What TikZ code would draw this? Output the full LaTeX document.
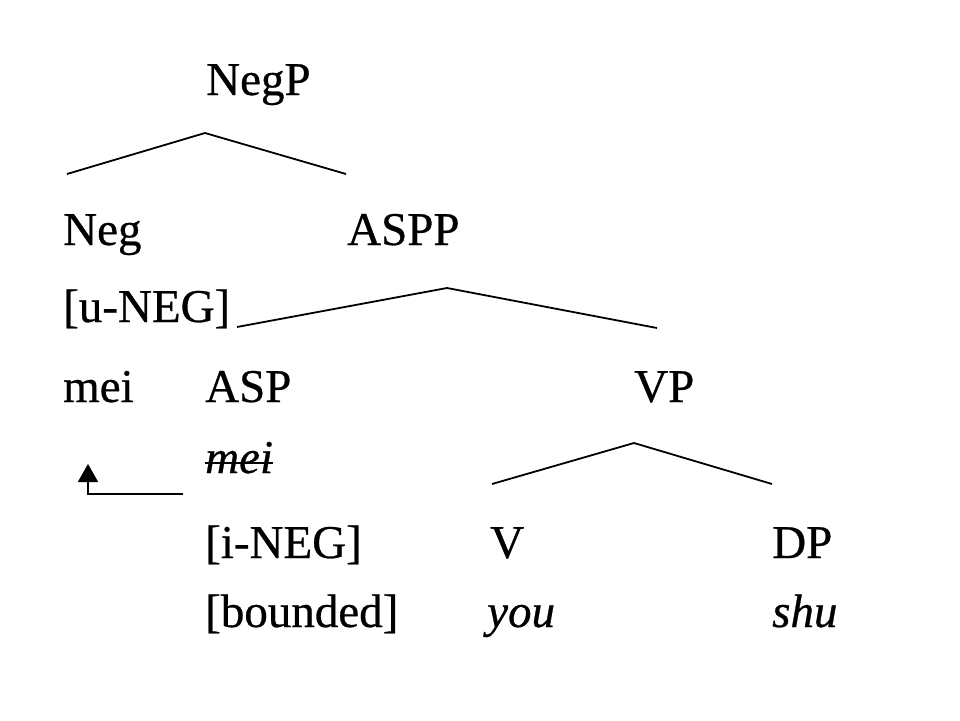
\documentclass[tikz,border=0pt]{standalone}
\usepackage{fontspec}
\setmainfont[FakeBold=0.6]{Liberation Serif}
\usetikzlibrary{arrows.meta}
\begin{document}
\begin{tikzpicture}[x=1pt,y=-1pt,
  lbl/.style={anchor=base west,inner sep=0pt,font=\fontsize{47}{56}\selectfont},
  br/.style={line width=1.8pt}]
\useasboundingbox (0,0) rectangle (960,720);
% labels
\node[lbl] (negp) at (206,95) {NegP};
\node[lbl] (neg) at (63,245) {Neg};
\node[lbl] (aspp) at (347,245) {ASPP};
\node[lbl] (uneg) at (63,322) {[u-NEG]};
\node[lbl] (mei) at (63,402) {mei};
\node[lbl] (asp) at (205,402) {ASP};
\node[lbl] (vp) at (634,402) {VP};
\node[lbl] (meit) at (205,473) {\itshape mei};
\node[lbl] (ineg) at (205,558) {[i-NEG]};
\node[lbl] (v) at (490,558) {V};
\node[lbl] (dp) at (772,558) {DP};
\node[lbl] (bnd) at (205,627) {[bounded]};
\node[lbl] (you) at (487,627) {\itshape you};
\node[lbl] (shu) at (772,627) {\itshape shu};
% branch coordinates
\coordinate (a1) at (205,133);
\coordinate (a1l) at (67,174);
\coordinate (a1r) at (346,174);
\coordinate (a2) at (447,288);
\coordinate (a2l) at (237,327);
\coordinate (a2r) at (657,328);
\coordinate (a3) at (634,443);
\coordinate (a3l) at (492,484);
\coordinate (a3r) at (772,484);
\draw[br] (a1l) -- (a1) -- (a1r);
\draw[br] (a2l) -- (a2) -- (a2r);
\draw[br] (a3l) -- (a3) -- (a3r);
% strike through italic mei
\draw[line width=1.5pt] ([yshift=10pt]meit.base west) -- ([yshift=10pt]meit.base east);
% movement arrow
\coordinate (m1) at (183,494);
\coordinate (m2) at (88,494);
\coordinate (m3) at (88,464);
\draw[line width=1.8pt,-{Triangle[width=20pt,length=18pt]}] (m1) -- (m2) -- (m3);
\end{tikzpicture}
\end{document}
